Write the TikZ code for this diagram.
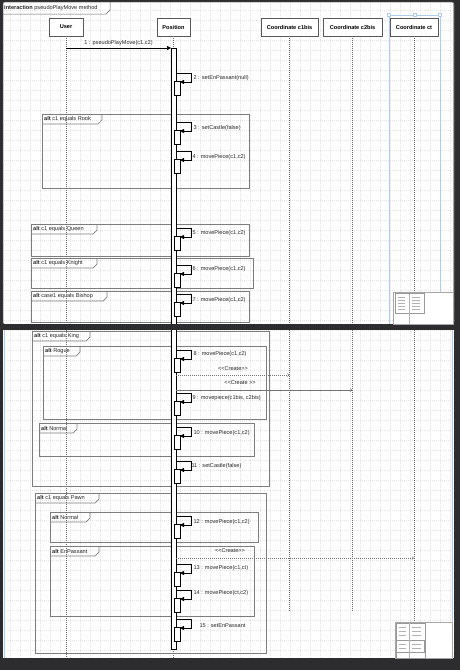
\documentclass[tikz,border=0pt]{standalone}
\usepackage{fontspec}
\setmainfont{Liberation Sans}
\usetikzlibrary{arrows.meta}
\definecolor{bgdark}{RGB}{45,45,48}
\definecolor{selblue}{RGB}{175,205,235}
\definecolor{fraggray}{RGB}{125,125,125}
\definecolor{gridc}{RGB}{228,228,228}
\tikzset{
 lbl/.style={font=\fontsize{5.6}{6.5}\selectfont, inner sep=0.3pt, text=black!85},
 head/.style={draw=black!65, fill=white, line width=0.5pt, minimum height=18pt, font=\fontsize{5.6}{6.5}\selectfont\bfseries, inner sep=1pt},
 life/.style={draw=black!60, dash pattern=on 1pt off 1pt, line width=0.4pt},
 bar/.style={draw=black, fill=white, line width=0.5pt},
 loopmsg/.style={draw=black, line width=0.5pt, -{Triangle[length=4pt,width=4pt]}},
 createmsg/.style={draw=black!55, line width=0.4pt, dash pattern=on 1pt off 1pt, -{Straight Barb[length=2pt,width=3pt]}},
 createsolid/.style={draw=black!55, line width=0.4pt, -{Straight Barb[length=2pt,width=3pt]}},
 frag/.style={draw=fraggray, line width=0.7pt},
 tabtxt/.style={font=\fontsize{5.6}{6.5}\selectfont, inner sep=0pt, anchor=west, text=black!85},
 mini/.style={draw=black!35, fill=white, line width=0.4pt},
}
\newcommand\lt{<\kern0pt}
\newcommand\gt{>\kern0pt}
% self message: name, y0, label y, label x, text
\newcommand\selfmsg[5]{%
 \coordinate (#1s) at (176,#2);
 \coordinate (#1r) at (191,#2);
 \coordinate (#1d) at (191,#2+9);
 \coordinate (#1e) at (180,#2+9);
 \draw[bar] (174,#2+8) rectangle (180,#2+22);
 \draw[loopmsg] (#1s) -- (#1r) -- (#1d) -- (#1e);
 \node[lbl, anchor=west] (#1l) at (#4,#3) {#5};
}
% fragment: name, x1, y1, x2, y2, tab right x, text
\newcommand\altfrag[7]{%
 \draw[frag] (#2,#3) rectangle (#4,#5);
 \draw[frag] (#2,#3+10) -- (#6-4,#3+10) -- (#6,#3+6) -- (#6,#3);
 \node[tabtxt] (#1) at (#2+2,#3+5) {\textbf{alt} #7};
}
\begin{document}
\begin{tikzpicture}[x=1pt,y=-1pt]
\useasboundingbox (0,0) rectangle (460,670);
\fill[bgdark] (0,0) rectangle (460,670);
% panels
\fill[white, rounded corners=2pt] (3,2) rectangle (454,324);
\fill[white] (3,330) rectangle (454,658);
\begin{scope}
 \clip (3,2) rectangle (454,324);
 \draw[gridc, line width=0.3pt, step=10pt, dash pattern=on 1pt off 1pt] (0,0) grid (460,330);
\end{scope}
\begin{scope}
 \clip (3,330) rectangle (454,658);
 \draw[gridc, line width=0.3pt, step=10pt, dash pattern=on 1pt off 1pt] (0,330) grid (460,660);
\end{scope}
\draw[black!55, line width=0.5pt, rounded corners=2pt] (3,324) -- (3,2) -- (453.5,2) -- (453.5,324);
\draw[selblue, line width=0.6pt] (4.5,330) -- (4.5,658);
\draw[selblue, line width=0.6pt] (452,330) -- (452,658);
% selection of ct
\draw[selblue, line width=0.5pt] (389,15) rectangle (440,324);
\foreach \hx in {389,414.5,440} \draw[selblue, fill=white, line width=0.4pt] (\hx-1.5,13.5) rectangle (\hx+1.5,16.5);
% frame tab
\draw[black!60, line width=0.5pt] (3,14) -- (106,14) -- (110,10) -- (110,2);
\node[tabtxt] (frame) at (4,8) {\textbf{interaction} pseudoPlayMove method};
% heads
\node[head, minimum width=34pt] (user) at (66,27) {User};
\node[head, minimum width=33pt] (pos) at (173.5,27) {Position};
\node[head, minimum width=57pt] (c1b) at (289.5,27) {Coordinate c1bis};
\node[head, minimum width=59pt] (c2b) at (352.5,27) {Coordinate c2bis};
\node[head, minimum width=48pt] (ct) at (414,27) {Coordinate ct};
% fragments (top)
\altfrag{fRook}{42}{114}{249}{188}{102}{c1 equals Rook}
\altfrag{fQueen}{31}{224}{249}{256}{97}{c1 equals Queen}
\altfrag{fKnight}{31}{258}{253}{288}{97}{c1 equals Knight}
\altfrag{fBishop}{31}{291}{249}{322}{107}{case1 equals Bishop}
% fragments (bottom)
\altfrag{fKing}{32}{331}{269}{486}{90}{c1 equals King}
\altfrag{fRogue}{43}{346}{266}{419}{80}{Rogue}
\altfrag{fNormA}{39}{423}{254}{456}{77}{Normal}
\altfrag{fPawn}{35}{493}{266}{653}{99}{c1 equals Pawn}
\altfrag{fNormB}{50}{512}{258}{542}{90}{Normal}
\altfrag{fEnP}{50}{546}{254}{616}{99}{EnPassant}
% lifelines
\coordinate (userEnd) at (66,658);
\coordinate (posA) at (173.5,48);
\coordinate (posB) at (173.5,649);
\coordinate (posEnd) at (173.5,658);
\coordinate (c1End) at (289.5,612);
\coordinate (c2End) at (352.5,612);
\coordinate (ctEnd) at (414,622);
\draw[life] (user.south) -- (userEnd);
\draw[life] (pos.south) -- (posA);
\draw[life] (posB) -- (posEnd);
\draw[life] (c1b.south) -- (c1End);
\draw[life] (c2b.south) -- (c2End);
\draw[life] (ct.south) -- (ctEnd);
% activation bar of Position
\draw[bar] (171,48) rectangle (176,649);
% message 1
\coordinate (m1a) at (66,48);
\coordinate (m1b) at (171,48);
\draw[loopmsg] (m1a) -- (m1b);
\node[lbl] (m1l) at (118.5,43) {1 : pseudoPlayMove(c1,c2)};
% self messages
\selfmsg{m2}{73}{78}{193}{2 : setEnPassant(null)}
\selfmsg{m3}{122}{128}{193}{3 : setCastle(false)}
\selfmsg{m4}{151}{157}{192}{4 : movePiece(c1,c2)}
\selfmsg{m5}{228}{233}{192}{5 : movePiece(c1,c2)}
\selfmsg{m6}{265}{269}{192}{6 : movePiece(c1,c2)}
\selfmsg{m7}{294}{300}{192}{7 : movePiece(c1,c2)}
\selfmsg{m8}{350}{354}{193}{8 : movePiece(c1,c2)}
\selfmsg{m9}{393}{398}{192}{9 : movepiece(c1bis, c2bis)}
\selfmsg{m10}{427}{433}{193}{10 : movePiece(c1,c2)}
\selfmsg{m11}{461}{466}{191}{11 : setCastle(false)}
\selfmsg{m12}{516}{522}{193}{12 : movePiece(c1,c2)}
\selfmsg{m13}{564}{568}{193}{13 : movePiece(c1,ct)}
\selfmsg{m14}{590}{593}{193}{14 : movePiece(ct,c2)}
\selfmsg{m15}{619}{626}{199}{15 : setEnPassant}
% create messages
\coordinate (cr1) at (176,375);
\draw[createmsg] (cr1) -- (cr1 -| c1b);
\node[lbl] (cr1l) at (233,369) {\lt\lt Create\gt\gt};
\coordinate (cr2) at (176,390);
\draw[createsolid] (cr2) -- (cr2 -| c2b);
\node[lbl] (cr2l) at (240,383) {\lt\lt Create \gt\gt};
\coordinate (cr3) at (176,558);
\draw[createmsg] (cr3) -- (cr3 -| ct);
\node[lbl] (cr3l) at (230,551) {\lt\lt Create\gt\gt};
% gap between panels
\fill[bgdark] (0,324) rectangle (460,330);
\fill[bgdark] (0,658) rectangle (460,670);
% minimaps
\draw[mini] (393,292) rectangle (453.5,324);
\draw[black!40, line width=0.3pt] (395,293.5) rectangle (424,313);
\foreach \yy in {297,300,303,306,309} {\draw[black!30, line width=0.2pt] (398,\yy) -- (405,\yy); \draw[black!30, line width=0.2pt] (412,\yy) -- (420,\yy);}
\draw[black!30, line width=0.2pt] (409,293.5) -- (409,324);
\draw[mini] (395,622) rectangle (452,658);
\draw[black!40, line width=0.3pt] (396,623) rectangle (425,658);
\draw[black!40, line width=0.3pt] (396,640) rectangle (424,652);
\foreach \yy in {627,631,635,644,648} {\draw[black!30, line width=0.2pt] (399,\yy) -- (406,\yy); \draw[black!30, line width=0.2pt] (412,\yy) -- (421,\yy);}
\draw[black!30, line width=0.2pt] (409,623) -- (409,658);
\end{tikzpicture}
\end{document}
